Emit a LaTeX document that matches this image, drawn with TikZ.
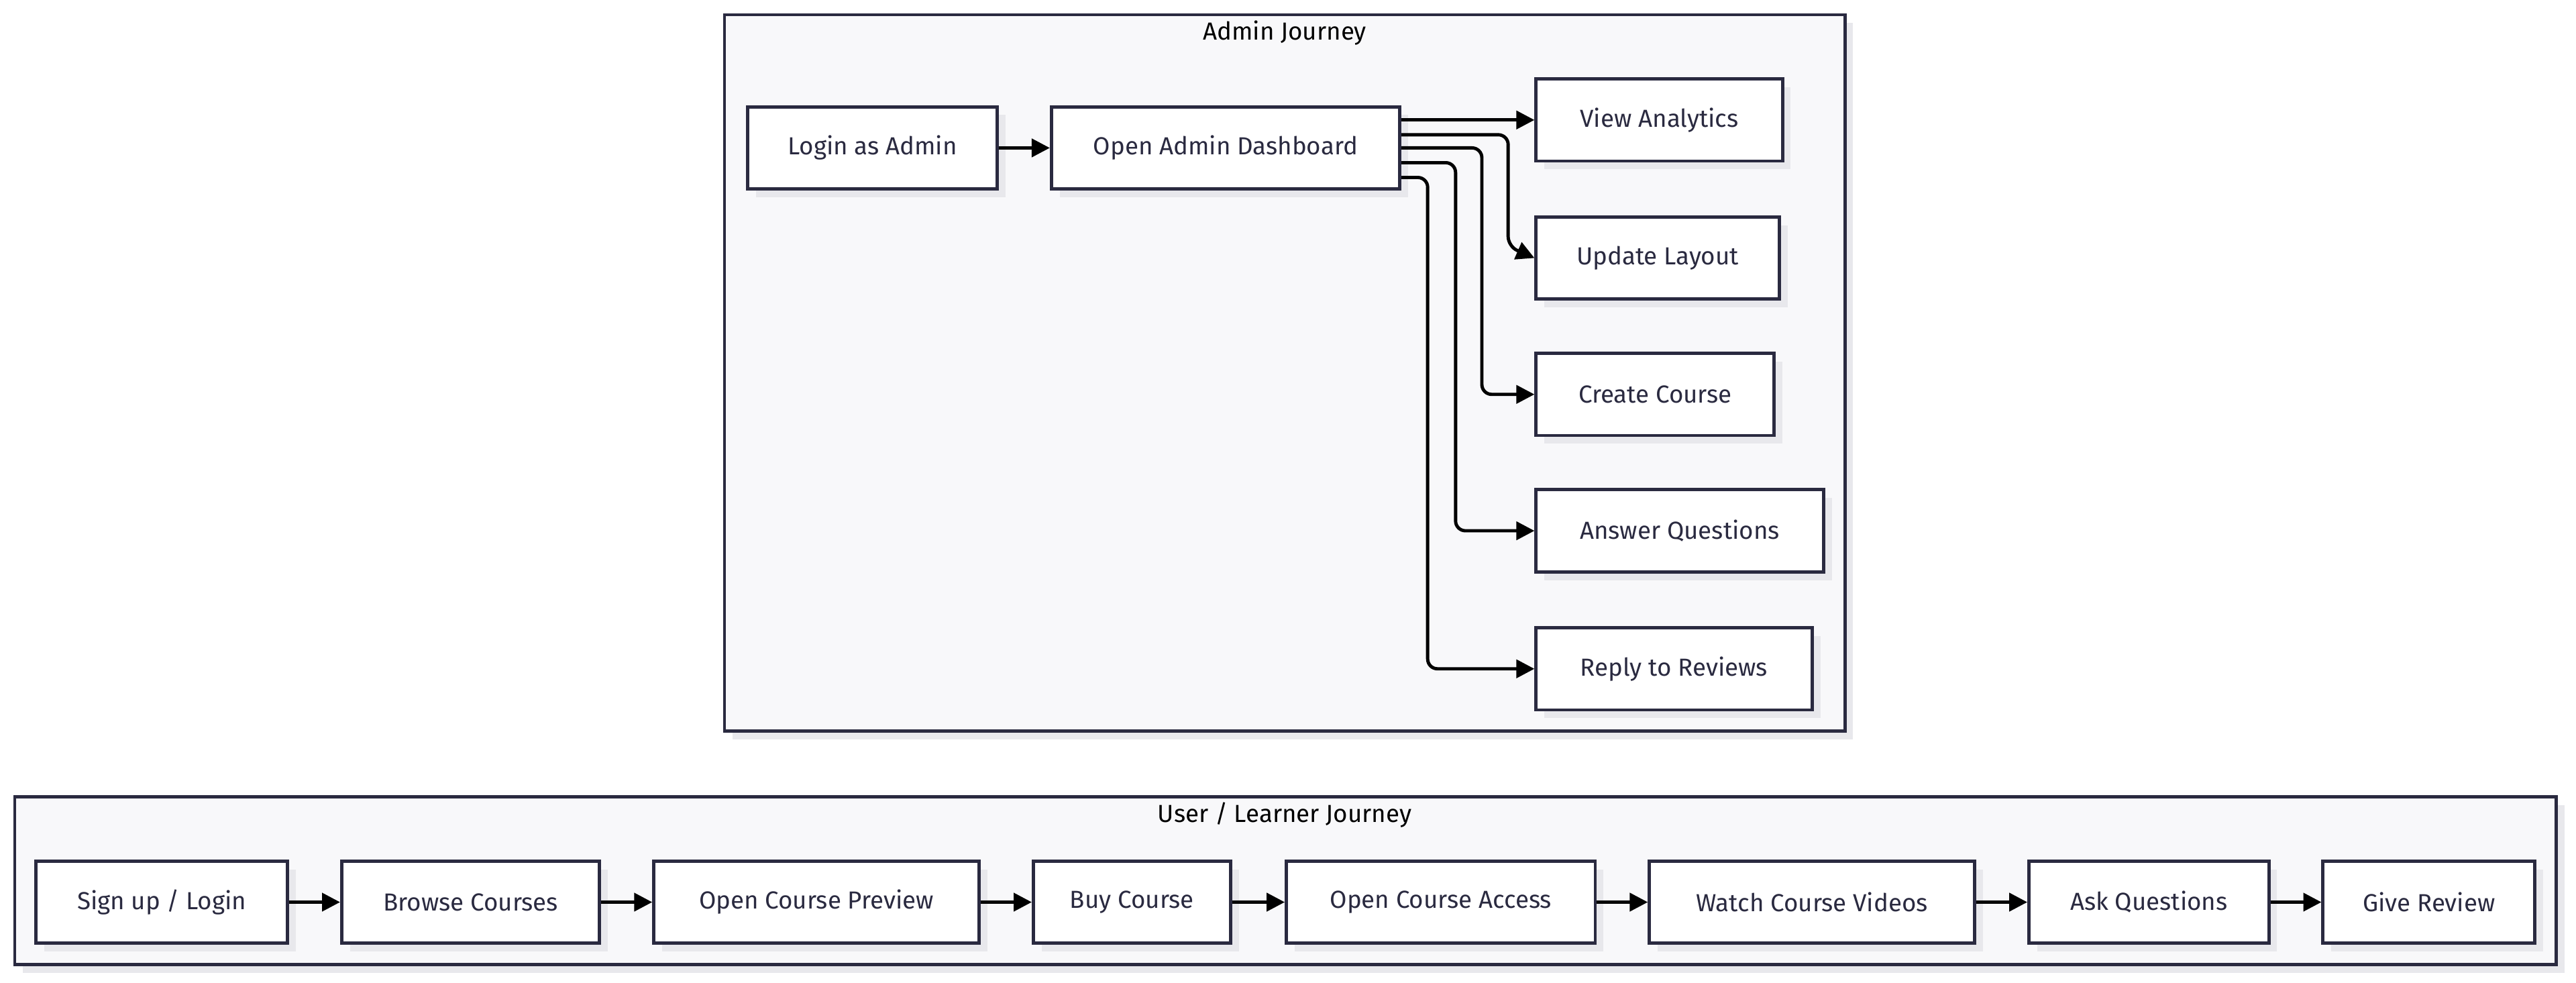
\documentclass[tikz,border=0pt]{standalone}
\usepackage{fontspec}
\setmainfont{Fira Sans}
\usetikzlibrary{arrows.meta,shadows}
\definecolor{bd}{HTML}{2A2A40}
\definecolor{cl}{HTML}{F8F8FA}
\definecolor{sh}{HTML}{E8E8EC}
\begin{document}
\begin{tikzpicture}[x=1pt,y=-1pt,
  box/.style={draw=bd,line width=2pt,fill=white,minimum height=50pt,inner sep=0pt,font=\fontsize{15}{18}\selectfont,text=bd,
    drop shadow={shadow xshift=5pt,shadow yshift=-5pt,fill=sh,opacity=1}},
  clus/.style={draw=bd,line width=2pt,fill=cl,
    drop shadow={shadow xshift=5pt,shadow yshift=-5pt,fill=sh,opacity=1}},
  ttl/.style={font=\fontsize{15}{18}\selectfont,text=black},
  e/.style={draw=black,line width=2pt,-{Triangle[length=11pt,width=11pt]},rounded corners=6pt}]
\useasboundingbox (0,0) rectangle (1568,598);
\fill[white] (0,0) rectangle (1568,598);
\path[clus] (441,9) rectangle (1123,445);
\path[clus] (9,485) rectangle (1556,587);
\node[ttl] (t1) at (782,20) {Admin Journey};
\node[ttl] (t2) at (782,496) {User / Learner Journey};
\def\bx#1#2#3#4#5{\node[box,minimum width=#3-#2] (#1) at ({(#2+#3)/2},#4) {#5};}
\bx{la}{455}{607}{90}{Login as Admin}
\bx{od}{640}{852}{90}{Open Admin Dashboard}
\bx{va}{935}{1085}{73}{View Analytics}
\bx{ul}{935}{1083}{157}{Update Layout}
\bx{cc}{935}{1080}{240}{Create Course}
\bx{aq}{935}{1110}{323}{Answer Questions}
\bx{rr}{935}{1103}{407}{Reply to Reviews}
\path[e] (la) -- (od);
\path[e] (od.east |- 0,73) -- (va.west |- 0,73);
\path[e] (od.east |- 0,82) -- (918,82) -- (918,150) -- (ul.west);
\path[e] (od.east |- 0,90) -- (902,90) -- (902,240) -- (cc.west);
\path[e] (od.east |- 0,99) -- (886,99) -- (886,323) -- (aq.west);
\path[e] (od.east |- 0,108) -- (869,108) -- (869,407) -- (rr.west);
\bx{u1}{22}{175}{549}{Sign up / Login}
\bx{u2}{208}{365}{549}{Browse Courses}
\bx{u3}{398}{596}{549}{Open Course Preview}
\bx{u4}{629}{749}{549}{Buy Course}
\bx{u5}{783}{971}{549}{Open Course Access}
\bx{u6}{1004}{1202}{549}{Watch Course Videos}
\bx{u7}{1235}{1381}{549}{Ask Questions}
\bx{u8}{1414}{1543}{549}{Give Review}
\foreach \a/\b in {u1/u2,u2/u3,u3/u4,u4/u5,u5/u6,u6/u7,u7/u8} \path[e] (\a) -- (\b);
\end{tikzpicture}
\end{document}
